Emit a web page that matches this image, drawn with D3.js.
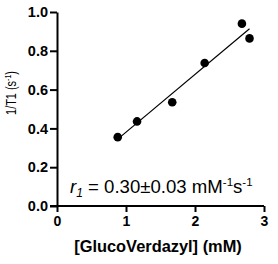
<!DOCTYPE html>
<html>
<head>
<meta charset="utf-8">
<script src="https://cdn.jsdelivr.net/npm/d3@7"></script>
<style>
  body { margin: 0; background: #fff; }
  text { font-family: "Liberation Sans", Arial, sans-serif; }
</style>
</head>
<body>
<script>
// concentration (mM) and relaxation rate 1/T1 (s^-1)
const conc = [0.88, 1.16, 1.67, 2.14, 2.68, 2.79];
const rate = [0.355, 0.436, 0.535, 0.737, 0.94, 0.864];
const xTicks = [0, 1, 2, 3];
const yTicks = [0, 0.2, 0.4, 0.6, 0.8, 1.0];

function main() {
    const W = 278, H = 264;
    const svg = d3.select("body").append("svg")
        .attr("width", W)
        .attr("height", H);

    const x = d3.scaleLinear().domain([0, 3]).range([57, 264]);
    const y = d3.scaleLinear().domain([0, 1]).range([206, 12]);

    // x axis
    const gx = svg.append("g")
        .attr("transform", "translate(0," + y(0) + ")")
        .call(d3.axisBottom(x).tickValues(xTicks).tickFormat(d3.format("d")).tickSize(6).tickSizeOuter(0));
    gx.select(".domain").attr("stroke-width", 2).attr("d", "M" + (x(0) - 7) + ",0H" + x(3));
    gx.selectAll(".tick line").attr("stroke-width", 2);
    gx.selectAll(".tick text")
        .attr("font-size", 14).attr("font-weight", "bold")
        .attr("font-family", "Liberation Sans, Arial, sans-serif")
        .attr("y", 10);

    // y axis
    const gy = svg.append("g")
        .attr("transform", "translate(" + x(0) + ",0)")
        .call(d3.axisLeft(y).tickValues(yTicks).tickFormat(d3.format(".1f")).tickSize(7).tickSizeOuter(0));
    gy.select(".domain").attr("stroke-width", 2);
    gy.selectAll(".tick line").attr("stroke-width", 2);
    gy.selectAll(".tick text")
        .attr("font-size", 14.5).attr("font-weight", "bold")
        .attr("font-family", "Liberation Sans, Arial, sans-serif")
        .attr("x", -9);

    // least-squares fit line
    const mx = d3.mean(conc), my = d3.mean(rate);
    const sxy = d3.sum(conc, (c, i) => (c - mx) * (rate[i] - my));
    const sxx = d3.sum(conc, c => (c - mx) * (c - mx));
    const slope = sxy / sxx, icpt = my - slope * mx;
    const ends = d3.extent(conc);
    svg.append("path")
        .attr("fill", "none")
        .attr("stroke", "#000")
        .attr("stroke-width", 1.2)
        .attr("d", d3.line().x(d => x(d)).y(d => y(slope * d + icpt))(ends));

    svg.selectAll(".pt")
        .data(conc)
        .join("circle")
        .attr("class", "pt")
        .attr("cx", d => x(d))
        .attr("cy", (d, i) => y(rate[i]))
        .attr("r", 4.3)
        .attr("fill", "#000");

    // annotation
    const t = svg.append("text")
        .attr("x", 70).attr("y", 193)
        .attr("font-size", 18.6);
    t.append("tspan").attr("font-style", "italic").text("r");
    t.append("tspan").attr("font-style", "italic").attr("font-size", 12).attr("dy", 4).text("1");
    t.append("tspan").attr("dy", -4).text(" = 0.30±0.03 mM");
    t.append("tspan").attr("font-size", 11.5).attr("dy", -7).text("-1");
    t.append("tspan").attr("dy", 7).text("s");
    t.append("tspan").attr("font-size", 11.5).attr("dy", -7).text("-1");

    // axis titles
    svg.append("text")
        .attr("x", 158).attr("y", 252)
        .attr("text-anchor", "middle")
        .attr("font-size", 16.4).attr("font-weight", "bold")
        .text("[GlucoVerdazyl] (mM)");

    const yl = svg.append("text")
        .attr("transform", "translate(16,93) rotate(-90) scale(0.78,1)")
        .attr("text-anchor", "middle")
        .attr("font-size", 14);
    yl.append("tspan").text("1/T1 (s");
    yl.append("tspan").attr("font-size", 9).attr("dy", -5).text("-1");
    yl.append("tspan").attr("dy", 5).text(")");
}
main();
</script>
</body>
</html>
